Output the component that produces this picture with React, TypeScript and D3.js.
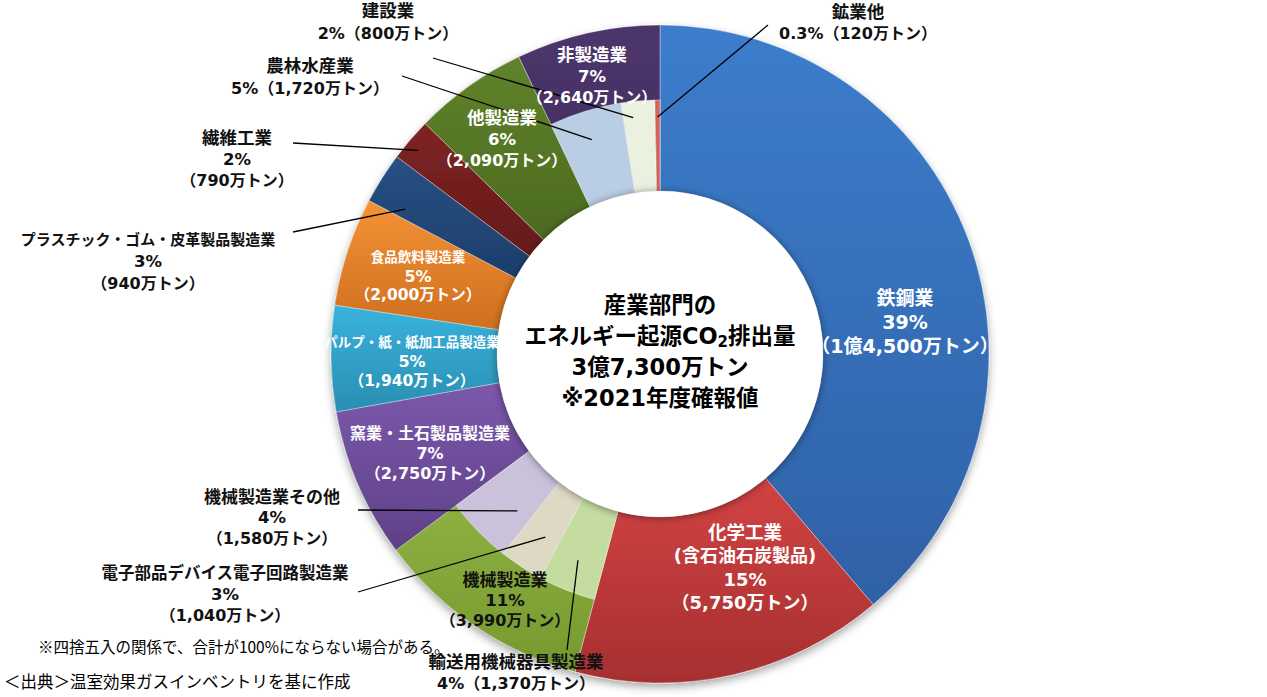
import * as d3 from "d3";

// ── data ─────────────────────────────────────────────
const sectors = [
  "鉄鋼業",
  "化学工業",
  "機械製造業",
  "窯業・土石製品製造業",
  "パルプ・紙・紙加工品製造業",
  "食品飲料製造業",
  "プラスチック・ゴム・皮革製品製造業",
  "繊維工業",
  "他製造業",
  "非製造業",
];
const emissions = [14500, 5750, 3990, 2750, 1940, 2000, 940, 790, 2090, 2640]; // 万トン
const shares = ["39%", "15%", "11%", "7%", "5%", "5%", "3%", "2%", "6%", "7%"];

const subParents = ["機械製造業", "機械製造業", "機械製造業", "非製造業", "非製造業", "非製造業"];
const subNames = ["輸送用機械器具製造業", "電子部品デバイス電子回路製造業", "機械製造業その他", "農林水産業", "建設業", "鉱業他"];
const subValues = [1370, 1040, 1580, 1720, 800, 120];
const subShares = ["4%", "3%", "4%", "5%", "2%", "0.3%"];

const centerLines = ["産業部門の", "エネルギー起源CO|排出量", "3億7,300万トン", "※2021年度確報値"];
const notes = ["※四捨五入の関係で、合計が100%にならない場合がある。", "＜出典＞温室効果ガスインベントリを基に作成"];

// ── styles ───────────────────────────────────────────
const sectorTop = ["#3c7dcc", "#d24343", "#94b847", "#7c58ac", "#39b3dc", "#f49236", "#275085", "#7e2323", "#5f832a", "#4d366c"];
const sectorBottom = ["#2f61a6", "#a62f2f", "#76992f", "#5e4188", "#2a8eb2", "#cf6f1f", "#1d3e6a", "#661a1a", "#4c6a20", "#402c5c"];
const subColors = ["#c5dca1", "#ddd9c5", "#ccc1db", "#b9cde5", "#ebf1df", "#d2625b"];

const CX = 660, CY = 354, R_OUT = 329, R_IN = 163, R_SUB = 254;
const FONT = "'DejaVu Sans', 'Noto Sans CJK JP', sans-serif";
const NOTE_FONT = "'Noto Sans CJK JP', sans-serif";

type Lbl = { x: number; y: number; lh: number; size: number; nameSize: number; amtSize?: number; color: string; two?: boolean; extra?: string };
const labelLayout: Record<string, Lbl> = {
  "鉄鋼業": { x: 905, y: 298, lh: 24, size: 19, nameSize: 19, color: "#fff" },
  "化学工業": { x: 745, y: 532, lh: 23.5, size: 18, nameSize: 18.5, color: "#fff", extra: "(含石油石炭製品)" },
  "機械製造業": { x: 505, y: 580, lh: 20, size: 16.5, nameSize: 17, amtSize: 16, color: "#111" },
  "窯業・土石製品製造業": { x: 430, y: 433, lh: 20, size: 16, nameSize: 16, color: "#fff" },
  "パルプ・紙・紙加工品製造業": { x: 412, y: 342, lh: 19.5, size: 16, nameSize: 13.5, amtSize: 15.5, color: "#fff" },
  "食品飲料製造業": { x: 418, y: 257, lh: 19, size: 16, nameSize: 13.5, amtSize: 15.5, color: "#fff" },
  "他製造業": { x: 502, y: 118, lh: 21, size: 16.5, nameSize: 17.5, amtSize: 16, color: "#fff" },
  "非製造業": { x: 592, y: 55, lh: 21, size: 16.5, nameSize: 17.5, amtSize: 16, color: "#fff" },
  "プラスチック・ゴム・皮革製品製造業": { x: 148, y: 240, lh: 21.5, size: 16.5, nameSize: 15, amtSize: 16, color: "#111" },
  "繊維工業": { x: 237, y: 138, lh: 21, size: 16.5, nameSize: 17.5, amtSize: 16, color: "#111" },
  "輸送用機械器具製造業": { x: 516, y: 662, lh: 21, size: 16, nameSize: 17.5, color: "#111", two: true },
  "電子部品デバイス電子回路製造業": { x: 225, y: 573, lh: 21, size: 16.5, nameSize: 16.5, amtSize: 16, color: "#111" },
  "機械製造業その他": { x: 272, y: 497, lh: 20.5, size: 16.5, nameSize: 17, amtSize: 16, color: "#111" },
  "農林水産業": { x: 310, y: 66, lh: 22, size: 16, nameSize: 17.5, color: "#111", two: true },
  "建設業": { x: 388, y: 11, lh: 22, size: 16, nameSize: 17.5, color: "#111", two: true },
  "鉱業他": { x: 858, y: 12, lh: 21, size: 16, nameSize: 17.5, color: "#111", two: true },
};

// leader lines: position inside slice (fraction of angle, radius) -> label end
const leaders: Record<string, { frac: number; r: number; to: [number, number] }> = {
  "鉱業他": { frac: 0.5, r: 237, to: [768, 25] },
  "建設業": { frac: 0.31, r: 238, to: [433, 58] },
  "農林水産業": { frac: 0.47, r: 225, to: [402, 76] },
  "繊維工業": { frac: 0.43, r: 316, to: [293, 143] },
  "プラスチック・ゴム・皮革製品製造業": { frac: 0.2, r: 293, to: [293, 232] },
  "機械製造業その他": { frac: 0.27, r: 212, to: [358, 510] },
  "電子部品デバイス電子回路製造業": { frac: 0.39, r: 216, to: [358, 592] },
  "輸送用機械器具製造業": { frac: 0.51, r: 222, to: [567, 650] },
};

const fmtAmount = (v: number) => {
  const f = d3.format(",");
  return v >= 10000 ? `${Math.floor(v / 10000)}億${f(v % 10000)}万トン` : `${f(v)}万トン`;
};

function Label({ name, share, value }: { name: string; share: string; value: number }) {
  const L = labelLayout[name];
  if (!L) return null;
  const amt = L.amtSize ?? L.size;
  const lines: { t: string; s: number }[] = [{ t: name, s: L.nameSize }];
  if (L.extra) lines.push({ t: L.extra, s: L.size });
  if (L.two) lines.push({ t: `${share}（${fmtAmount(value)}）`, s: amt });
  else {
    lines.push({ t: share, s: L.size });
    lines.push({ t: `（${fmtAmount(value)}）`, s: amt });
  }
  return (
    <g fill={L.color} fontWeight={700} textAnchor="middle" fontFamily={FONT}>
      {lines.map((l, i) => (
        <text key={i} x={L.x} y={L.y + i * L.lh} fontSize={l.s} dominantBaseline="central">
          {l.t}
        </text>
      ))}
    </g>
  );
}

export default function App() {
  const pie = d3.pie<number>().sort(null).value((d) => d);
  const outer = pie(emissions);
  const arcOuter = d3.arc<d3.PieArcDatum<number>>().innerRadius(R_IN).outerRadius(R_OUT);
  const arcSub = d3.arc<d3.PieArcDatum<number>>().innerRadius(R_IN).outerRadius(R_SUB);

  const subArcs: d3.PieArcDatum<number>[] = [];
  Array.from(new Set(subParents)).forEach((p) => {
    const pa = outer[sectors.indexOf(p)];
    const idx = subParents.map((q, i) => (q === p ? i : -1)).filter((i) => i >= 0);
    const part = d3.pie<number>().sort(null).value((d) => d).startAngle(pa.startAngle).endAngle(pa.endAngle)(idx.map((i) => subValues[i]));
    idx.forEach((i, k) => (subArcs[i] = part[k]));
  });

  const leaderStart = (a: d3.PieArcDatum<number>, frac: number, r: number): [number, number] => {
    const ang = a.startAngle + frac * (a.endAngle - a.startAngle);
    return [CX + r * Math.sin(ang), CY - r * Math.cos(ang)];
  };

  return (
    <svg width={1267} height={697} style={{ position: "absolute", left: 0, top: 0, background: "#fff" }}>
      <defs>
        {outer.map((_, i) => (
          <linearGradient key={i} id={`g${i}`} x1="0" y1="0" x2="0" y2="1">
            <stop offset="0%" stopColor={sectorTop[i]} />
            <stop offset="100%" stopColor={sectorBottom[i]} />
          </linearGradient>
        ))}
        <filter id="ringShadow" x="-10%" y="-10%" width="120%" height="125%">
          <feDropShadow dx="0" dy="4" stdDeviation="4" floodColor="#000" floodOpacity="0.35" />
        </filter>
        <filter id="holeShadow" x="-20%" y="-20%" width="140%" height="140%">
          <feDropShadow dx="0" dy="1" stdDeviation="4" floodColor="#000" floodOpacity="0.45" />
        </filter>
      </defs>

      <g transform={`translate(${CX},${CY})`}>
        <g filter="url(#ringShadow)">
          {outer.map((a, i) => (
            <path key={sectors[i]} d={arcOuter(a) as string} fill={`url(#g${i})`} stroke="rgba(255,255,255,0.5)" strokeWidth={0.7} />
          ))}
        </g>
        {subArcs.map((a, i) => (
          <path key={subNames[i]} d={arcSub(a) as string} fill={subColors[i]} stroke="rgba(255,255,255,0.6)" strokeWidth={0.7} />
        ))}
        <circle r={R_IN} fill="#fff" filter="url(#holeShadow)" />
      </g>

      {/* leader lines */}
      <g stroke="#000" strokeWidth={1.3}>
        {Object.entries(leaders).map(([name, L]) => {
          const si = sectors.indexOf(name);
          const a = si >= 0 ? outer[si] : subArcs[subNames.indexOf(name)];
          const [x1, y1] = leaderStart(a, L.frac, L.r);
          return <line key={name} x1={x1} y1={y1} x2={L.to[0]} y2={L.to[1]} />;
        })}
      </g>

      {/* labels */}
      {sectors.map((s, i) => (
        <Label key={s} name={s} share={shares[i]} value={emissions[i]} />
      ))}
      {subNames.map((s, i) => (
        <Label key={s} name={s} share={subShares[i]} value={subValues[i]} />
      ))}

      {/* centre text */}
      <g fontFamily={FONT} fontWeight={700} fontSize={22.5} textAnchor="middle" fill="#000">
        {centerLines.map((t, i) => {
          const y = 305 + i * 31;
          if (t.includes("|")) {
            const [a, b] = t.split("|");
            return (
              <text key={i} x={CX} y={y} dominantBaseline="central">
                {a}
                <tspan fontSize={15} dy={6}>2</tspan>
                <tspan dy={-6}>{b}</tspan>
              </text>
            );
          }
          return (
            <text key={i} x={CX} y={y} dominantBaseline="central">
              {t}
            </text>
          );
        })}
      </g>

      {/* notes */}
      <g fontFamily={NOTE_FONT} fill="#000">
        <text x={38} y={646} fontSize={15.5} dominantBaseline="central">{notes[0]}</text>
        <text x={4} y={681} fontSize={16.5} dominantBaseline="central">{notes[1]}</text>
      </g>
    </svg>
  );
}
